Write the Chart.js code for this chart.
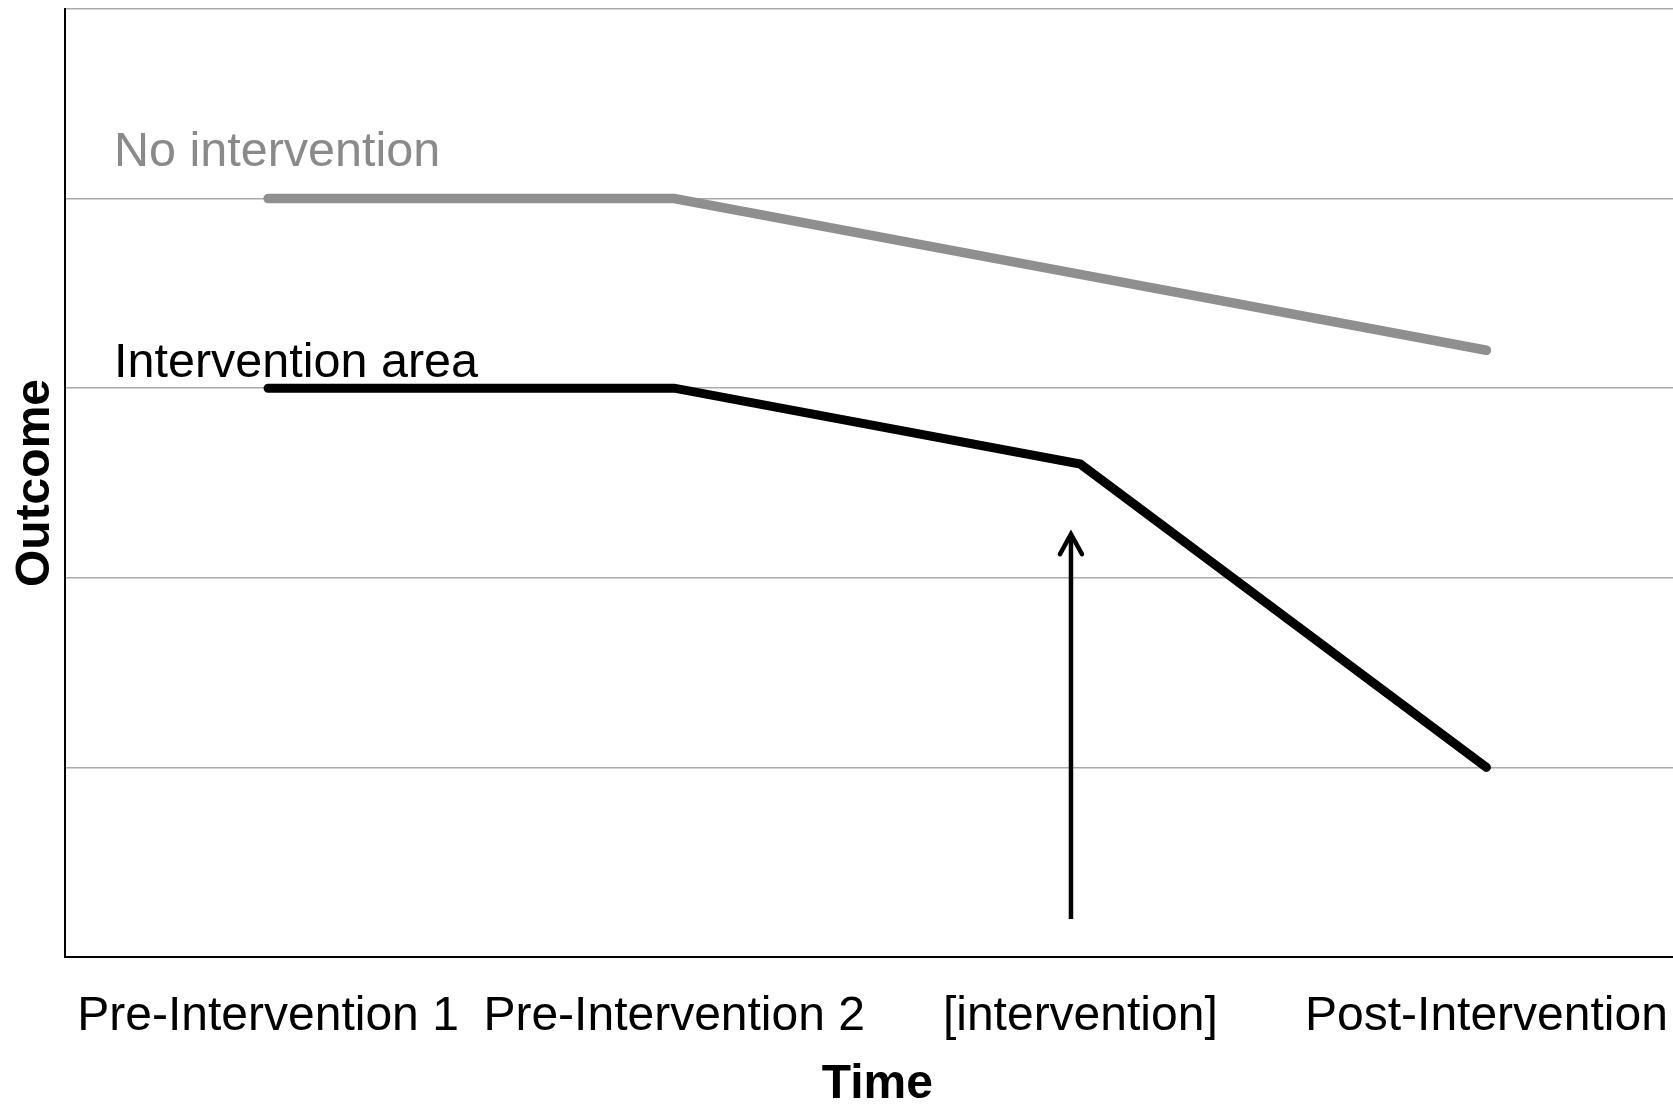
<!DOCTYPE html>
<html>
<head>
<meta charset="utf-8">
<script src="https://cdn.jsdelivr.net/npm/chart.js@4.4.1/dist/chart.umd.min.js"></script>
<style>
    html, body { margin: 0; padding: 0; background: #fff; overflow: hidden; }
    #wrap { width: 1700px; height: 1105px; position: relative; }
</style>
</head>
<body>
<div id="wrap"><canvas id="chart"></canvas></div>
<script>
// --- Data ---
const timeLabels = ['Pre-Intervention 1', 'Pre-Intervention 2', '[intervention]', 'Post-Intervention'];
const seriesNames = ['No intervention', 'Intervention area'];
const noInterventionValues = [4, 4, 3.6, 3.2];
const interventionAreaValues = [3, 3, 2.6, 1];
// arrow pointing at the intervention moment (x in category units, y in outcome units)
const arrowX = [1.977, 1.977];
const arrowY = [0.2, 2.23];

const FONT = '"Liberation Sans", Arial, Helvetica, sans-serif';
const GREY_LINE = '#8f8f8f';

function toPoints(values) {
    return values.map((v, i) => ({ x: i, y: v }));
}

// Draws the series captions and the arrowhead
const annotationPlugin = {
    id: 'annotations',
    afterDatasetsDraw(chart) {
        const { ctx, chartArea, scales } = chart;
        const x = scales.x, y = scales.y;
        ctx.save();
        ctx.font = '48.5px ' + FONT;
        ctx.textBaseline = 'alphabetic';
        ctx.textAlign = 'left';
        ctx.fillStyle = '#8a8a8a';
        ctx.fillText(seriesNames[0], chartArea.left + 49, y.getPixelForValue(noInterventionValues[0]) - 33);
        ctx.fillStyle = '#000';
        ctx.fillText(seriesNames[1], chartArea.left + 49, y.getPixelForValue(interventionAreaValues[0]) - 11);

        // arrowhead at the top of the arrow
        const tx = x.getPixelForValue(arrowX[1]);
        const ty = y.getPixelForValue(arrowY[1]);
        ctx.strokeStyle = '#000';
        ctx.lineWidth = 4.5;
        ctx.lineCap = 'round';
        ctx.lineJoin = 'miter';
        ctx.beginPath();
        ctx.moveTo(tx - 11, ty + 20);
        ctx.lineTo(tx, ty);
        ctx.lineTo(tx + 11, ty + 20);
        ctx.stroke();
        ctx.restore();
    }
};

new Chart(document.getElementById('chart'), {
    type: 'line',
    data: {
        datasets: [
            {
                label: seriesNames[0],
                data: toPoints(noInterventionValues),
                borderColor: GREY_LINE,
                borderWidth: 9.5,
                borderCapStyle: 'round',
                borderJoinStyle: 'miter',
                pointRadius: 0,
                tension: 0
            },
            {
                label: seriesNames[1],
                data: toPoints(interventionAreaValues),
                borderColor: '#000',
                borderWidth: 9,
                borderCapStyle: 'round',
                borderJoinStyle: 'miter',
                pointRadius: 0,
                tension: 0
            },
            {
                label: 'arrow',
                data: arrowX.map((v, i) => ({ x: v, y: arrowY[i] })),
                borderColor: '#000',
                borderWidth: 4.5,
                borderCapStyle: 'butt',
                pointRadius: 0
            }
        ]
    },
    options: {
        responsive: true,
        maintainAspectRatio: false,
        animation: false,
        layout: { padding: { top: 9, right: 9, left: 0, bottom: 0 } },
        plugins: {
            legend: { display: false },
            tooltip: { enabled: false }
        },
        scales: {
            x: {
                type: 'linear',
                min: -0.5,
                max: 3.5,
                afterBuildTicks: (scale) => { scale.ticks = timeLabels.map((_, i) => ({ value: i })); },
                afterFit: (scale) => { scale.height = 148; },
                grid: { display: false, drawTicks: false },
                border: { display: true, color: '#000', width: 2 },
                ticks: {
                    autoSkip: false,
                    maxRotation: 0,
                    padding: 31,
                    color: '#000',
                    font: { family: FONT, size: 48 },
                    callback: (v) => timeLabels[v] ?? ''
                },
                title: {
                    display: true,
                    text: 'Time',
                    color: '#000',
                    font: { family: FONT, size: 48, weight: 'bold', lineHeight: 1 },
                    padding: { top: 0, bottom: -4 }
                }
            },
            y: {
                min: 0,
                max: 5,
                afterFit: (scale) => { scale.width = 65; },
                ticks: { display: false, stepSize: 1 },
                grid: { color: '#aaaaaa', lineWidth: 1.5, drawTicks: false },
                border: { display: true, color: '#000', width: 2 },
                title: {
                    display: true,
                    text: 'Outcome',
                    color: '#000',
                    font: { family: FONT, size: 48, weight: 'bold', lineHeight: 1 },
                    padding: { top: 12, bottom: 0 }
                }
            }
        }
    },
    plugins: [annotationPlugin]
});
</script>
</body>
</html>
